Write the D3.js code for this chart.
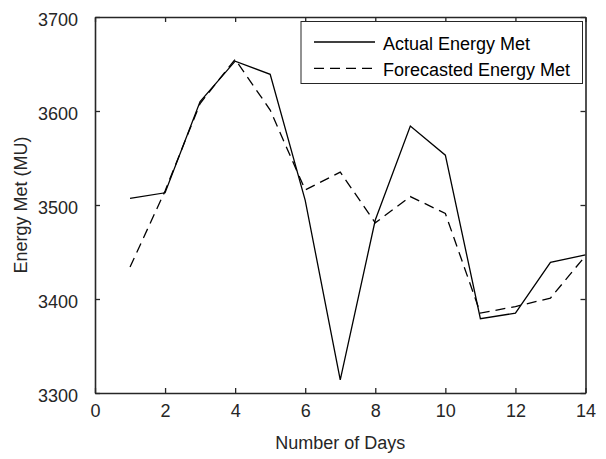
<!DOCTYPE html>
<html><head><meta charset="utf-8">
<script src="https://cdn.jsdelivr.net/npm/d3@7"></script>
<style>body{margin:0;background:#fff}svg{display:block}text{font-family:"Liberation Sans",Arial,sans-serif}</style>
</head><body><svg id="c" width="606" height="459"></svg>
<script>
const days = [1,2,3,4,5,6,7,8,9,10,11,12,13,14];
const actual = [3507,3513,3610,3653,3639,3505,3314,3484,3584,3553,3379,3385,3439,3447];
const forecast = [3434,3515,3608,3655,3601,3516,3535,3481,3509,3491,3385,3392,3401,3446];
const xTicks = [0,2,4,6,8,10,12,14];
const yTicks = [3300,3400,3500,3600,3700];
const seriesNames = ["Actual Energy Met","Forecasted Energy Met"];

const svg = d3.select("#c");
const L=95,R=585.5,T=17,B=393;
const x = d3.scaleLinear().domain([0,14]).range([L,R]);
const y = d3.scaleLinear().domain([3300,3700]).range([B,T]);
const axCol="#262626";
const FS="18px";

const g = svg.append("g");
const line = d3.line().x((d,i)=>x(days[i])).y(d=>y(d));
g.append("path").datum(actual).attr("d",line).attr("fill","none").attr("stroke","#000").attr("stroke-width",1.3);
g.append("path").datum(forecast).attr("d",line).attr("fill","none").attr("stroke","#000").attr("stroke-width",1.3).attr("stroke-dasharray","10,6");

const fmt = d3.format("d");
const xb = svg.append("g").attr("transform",`translate(0,${B})`).call(d3.axisBottom(x).tickValues(xTicks).tickFormat(fmt).tickSizeInner(-5).tickSizeOuter(0).tickPadding(11));
const xt = svg.append("g").attr("transform",`translate(0,${T})`).call(d3.axisTop(x).tickValues(xTicks).tickSizeInner(-5).tickSizeOuter(0).tickFormat(""));
const yl = svg.append("g").attr("transform",`translate(${L},0)`).call(d3.axisLeft(y).tickValues(yTicks).tickFormat(fmt).tickSizeInner(-5).tickSizeOuter(0).tickPadding(17));
const yr = svg.append("g").attr("transform",`translate(${R},0)`).call(d3.axisRight(y).tickValues(yTicks).tickSizeInner(-5).tickSizeOuter(0).tickFormat(""));
[xb,xt,yl,yr].forEach(a=>{
  a.attr("font-size",null).attr("font-family",null);
  a.selectAll("path").attr("stroke",axCol).attr("stroke-width",1.6);
  a.selectAll("line").attr("stroke",axCol).attr("stroke-width",1.3);
  a.selectAll("text").attr("fill",axCol).style("font-size",FS);
});
xb.selectAll("text").attr("dy","0.71em");
yl.selectAll("text").attr("dy","0.45em");

svg.append("text").attr("x",(L+R)/2).attr("y",449).attr("text-anchor","middle").attr("fill",axCol).style("font-size",FS).text("Number of Days");
svg.append("text").attr("transform",`translate(27,${(T+B)/2}) rotate(-90)`).attr("text-anchor","middle").attr("fill",axCol).style("font-size",FS).text("Energy Met (MU)");

const lg = svg.append("g");
lg.append("rect").attr("x",301).attr("y",21.5).attr("width",281.5).attr("height",62).attr("fill","#fff").attr("stroke","#262626").attr("stroke-width",1);
seriesNames.forEach((n,i)=>{
  const yy = 42 + i*26.3;
  lg.append("line").attr("x1",314).attr("x2",375).attr("y1",yy).attr("y2",yy).attr("stroke","#000").attr("stroke-width",1.3).attr("stroke-dasharray",i?"10,6":null);
  lg.append("text").attr("x",383).attr("y",yy+7.5).attr("fill","#000").style("font-size",FS).text(n);
});
</script></body></html>
